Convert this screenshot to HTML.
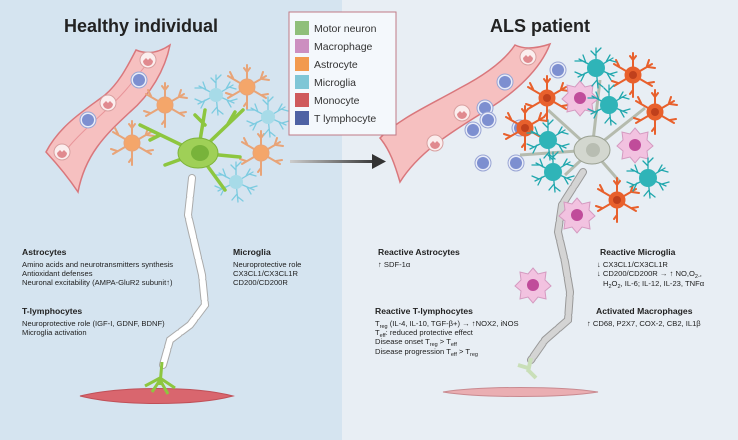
<!DOCTYPE html>
<html><head><meta charset="utf-8"><style>
html,body{margin:0;padding:0;width:738px;height:440px;overflow:hidden;background:#e8eef4}
svg{display:block}
text{font-family:"Liberation Sans",Arial,sans-serif;fill:#222}
.h{font-weight:bold;font-size:18px}
.t{font-weight:bold;font-size:8.6px}
.s{font-size:7.6px}
.lg{font-size:10.5px;fill:#333}
</style></head><body>
<svg width="738" height="440" viewBox="0 0 738 440" xmlns="http://www.w3.org/2000/svg">
<defs>
<g id="astro">
 <path d="M0-22 L0-8 M-3-19 L0-15 L3-19 M19-11 L7-4 M16-15 L14-9 M22-7 L15-8 M19 11 L7 4 M21 7 L15 8 M0 22 L0 8 M-3 19 L0 15 M-19 11 L-7 4 M-21 6 L-15 8 M-19-11 L-7-4 M-17-15 L-14-9" stroke-width="2" fill="none" stroke-linecap="round"/>
 <circle r="8"/>
</g>
<g id="micro">
 <path d="M0 0 L0-20 M0-12 L-5-17 M0-15 L5-20 M0 0 L17-10 M10-6 L14-13 M13-8 L20-6 M0 0 L18 8 M11 5 L15 12 M14 6 L21 4 M0 0 L2 20 M1 12 L-4 18 M2 15 L7 19 M0 0 L-18 9 M-11 5 L-15 13 M-14 7 L-21 4 M0 0 L-17-9 M-10-5 L-13-13 M-13-7 L-21-7" stroke-width="1.3" fill="none" stroke-linecap="round"/>
</g>
<g id="tcell"><circle r="8" fill="#e8ecf8" stroke="#98a4d4" stroke-width="1"/><circle r="6" fill="#7d8fd0"/></g>
<g id="mono"><circle r="8" fill="#fbeeee" stroke="#d8a0a0" stroke-width="1"/><path d="M-5 1 a5 5 0 1 0 10 0 l-3-3 l-2 2 l-2-2z" fill="#e08a8f"/></g>
<g id="macro"><path d="M0-17 L5-11 L13-13 L12-5 L18 1 L12 6 L13 14 L5 12 L0 18 L-5 12 L-13 14 L-12 6 L-18 1 L-12-5 L-13-13 L-5-11Z" fill="#f2c2e0" stroke="#d49ac0" stroke-width="1"/><circle r="6" fill="#c04c9a"/></g>
<linearGradient id="ag" x1="0" x2="1"><stop offset="0" stop-color="#ccc"/><stop offset="1" stop-color="#333"/></linearGradient>
</defs>
<rect x="0" y="0" width="342" height="440" fill="#d5e4f0"/>
<rect x="342" y="0" width="396" height="440" fill="#e8eef4"/>

<text x="64" y="32" class="h">Healthy individual</text>
<text x="490" y="32" class="h">ALS patient</text>

<!-- left vessel -->
<path d="M46 152 C60 125 85 110 105 95 C120 82 128 65 136 50 C148 55 160 52 170 45 C165 70 150 95 130 112 C105 135 85 155 78 192 C70 180 58 165 46 152 Z" fill="#f6c0c0" stroke="#d9777c" stroke-width="1.5"/>
<path d="M60 158 C80 130 110 110 130 85 L150 60" stroke="#e8959a" stroke-width="1" fill="none"/>
<use href="#mono" x="148" y="60"/><use href="#tcell" x="139" y="80"/><use href="#mono" x="108" y="103"/><use href="#tcell" x="88" y="120"/><use href="#mono" x="62" y="152"/>

<!-- left glia -->
<g fill="#f4a66a" stroke="#e8a478"><use href="#astro" x="165" y="105"/><use href="#astro" x="132" y="143"/><use href="#astro" x="247" y="87"/><use href="#astro" x="261" y="153"/></g>
<g stroke="#7ccbe0"><use href="#micro" x="216" y="95"/><use href="#micro" x="268" y="117"/><use href="#micro" x="236" y="182"/></g>
<g fill="#a7dbe8"><circle cx="216" cy="95" r="7"/><circle cx="268" cy="117" r="7"/><circle cx="236" cy="182" r="7"/></g>

<!-- left neuron -->
<path d="M198 153 L243 110 M228 124 L235 112 M198 153 L140 125 M160 135 L150 140 M198 153 L165 165 M198 153 L240 157 M198 153 L225 190 M198 153 L205 110 M205 125 L195 115" stroke="#8dc63f" stroke-width="3.5" fill="none" stroke-linecap="round"/>
<ellipse cx="198" cy="153" rx="20" ry="15" fill="#9fd057" stroke="#7db33a"/>
<ellipse cx="200" cy="153" rx="9" ry="8" fill="#78b33a"/>
<path d="M192 178 L188 215 L195 245 L202 275 L205 305 L190 325 L170 340 L163 365" stroke="#aaa" stroke-width="8" fill="none" stroke-dasharray="18 3" stroke-linecap="round"/>
<path d="M192 178 L188 215 L195 245 L202 275 L205 305 L190 325 L170 340 L163 365" stroke="#fff" stroke-width="6" fill="none" stroke-dasharray="18 3" stroke-linecap="round"/>
<path d="M80 396 C120 386 195 386 233 396 C195 406 120 406 80 396Z" fill="#d9666e" stroke="#c05058"/>
<path d="M162 362 L160 385 M160 378 L145 386 M160 378 L175 388 M160 380 L152 392 M160 380 L168 394" stroke="#8dc63f" stroke-width="3" fill="none"/>

<!-- right vessel -->
<path d="M380 138 C400 118 430 105 460 88 C485 75 505 60 515 45 C525 50 538 48 550 44 C540 70 515 92 490 108 C455 130 420 150 400 182 C395 165 390 150 380 138 Z" fill="#f6c0c0" stroke="#d9777c" stroke-width="1.5"/>
<use href="#mono" x="528" y="57"/><use href="#tcell" x="505" y="82"/><use href="#mono" x="462" y="113"/><use href="#tcell" x="485" y="108"/><use href="#mono" x="435" y="143"/>
<use href="#tcell" x="558" y="70"/><use href="#tcell" x="488" y="120"/><use href="#tcell" x="473" y="130"/><use href="#tcell" x="520" y="128"/><use href="#tcell" x="483" y="163"/><use href="#tcell" x="516" y="163"/>

<!-- right neuron -->
<path d="M592 150 L645 108 M592 150 L548 110 M592 150 L520 155 M592 150 L620 182 M592 150 L600 80 M592 150 L565 175" stroke="#b5bbae" stroke-width="3" fill="none"/>
<ellipse cx="592" cy="150" rx="18" ry="14" fill="#d3d7cf" stroke="#9aa092"/>
<ellipse cx="593" cy="150" rx="7" ry="7" fill="#b8bdb2"/>
<path d="M583 172 L562 205 L558 232 L565 262 L570 292 L568 320 L545 340 L531 360" stroke="#999" stroke-width="8" fill="none" stroke-dasharray="16 3" stroke-linecap="round"/>
<path d="M583 172 L562 205 L558 232 L565 262 L570 292 L568 320 L545 340 L531 360" stroke="#d4d4d4" stroke-width="6" fill="none" stroke-dasharray="16 3" stroke-linecap="round"/>
<path d="M531 358 L528 372 M528 368 L518 365 M528 370 L536 378" stroke="#c9dfb8" stroke-width="4" fill="none"/>
<path d="M443 392 C480 386 560 386 598 392 C560 398 480 398 443 392Z" fill="#eaaeb2" stroke="#c98a90"/>

<g fill="#e8602c" stroke="#e8602c"><use href="#astro" x="633" y="75"/><use href="#astro" x="547" y="98"/><use href="#astro" x="525" y="128"/><use href="#astro" x="655" y="112"/><use href="#astro" x="617" y="200"/></g>
<g fill="#c0401c"><circle cx="633" cy="75" r="4"/><circle cx="547" cy="98" r="4"/><circle cx="525" cy="128" r="4"/><circle cx="655" cy="112" r="4"/><circle cx="617" cy="200" r="4"/></g>
<use href="#macro" x="580" y="98"/><use href="#macro" x="635" y="145"/><use href="#macro" x="577" y="215"/><use href="#macro" x="533" y="285"/>
<g stroke="#1fa7ad"><use href="#micro" x="596" y="68"/><use href="#micro" x="609" y="105"/><use href="#micro" x="548" y="140"/><use href="#micro" x="553" y="172"/><use href="#micro" x="648" y="178"/></g>
<g fill="#2fb4b8"><circle cx="596" cy="68" r="9"/><circle cx="609" cy="105" r="9"/><circle cx="548" cy="140" r="9"/><circle cx="553" cy="172" r="9"/><circle cx="648" cy="178" r="9"/></g>

<!-- arrow -->
<rect x="290" y="160" width="88" height="3" fill="url(#ag)"/>
<path d="M372 154 L386 161.5 L372 169Z" fill="#333"/>

<!-- legend -->
<rect x="289" y="12" width="107" height="123" fill="#f4f8fc" stroke="#c07a86" stroke-width="1"/>
<rect x="295" y="21" width="14" height="14" fill="#8fbf7a"/><text x="314" y="32" class="lg">Motor neuron</text>
<rect x="295" y="39" width="14" height="14" fill="#cc8fc0"/><text x="314" y="50" class="lg">Macrophage</text>
<rect x="295" y="57" width="14" height="14" fill="#f29a4e"/><text x="314" y="68" class="lg">Astrocyte</text>
<rect x="295" y="75" width="14" height="14" fill="#7fc6d6"/><text x="314" y="86" class="lg">Microglia</text>
<rect x="295" y="93" width="14" height="14" fill="#cf5a5c"/><text x="314" y="104" class="lg">Monocyte</text>
<rect x="295" y="111" width="14" height="14" fill="#4e62a4"/><text x="314" y="122" class="lg">T lymphocyte</text>

<!-- left text -->
<text x="22" y="255" class="t">Astrocytes</text>
<text x="22" y="267" class="s">Amino acids and neurotransmitters synthesis</text>
<text x="22" y="276" class="s">Antioxidant defenses</text>
<text x="22" y="285" class="s">Neuronal excitability (AMPA-GluR2 subunit↑)</text>
<text x="22" y="314" class="t">T-lymphocytes</text>
<text x="22" y="326" class="s">Neuroprotective role (IGF-I, GDNF, BDNF)</text>
<text x="22" y="335" class="s">Microglia activation</text>
<text x="233" y="255" class="t">Microglia</text>
<text x="233" y="267" class="s">Neuroprotective role</text>
<text x="233" y="276" class="s">CX3CL1/CX3CL1R</text>
<text x="233" y="285" class="s">CD200/CD200R</text>

<!-- right text -->
<text x="378" y="255" class="t">Reactive Astrocytes</text>
<text x="378" y="267" class="s">↑ SDF-1α</text>
<text x="375" y="314" class="t">Reactive T-lymphocytes</text>
<text x="375" y="326" class="s">T<tspan font-size="5.5" dy="2">reg</tspan><tspan dy="-2"> (IL-4, IL-10, TGF-β+) → ↑NOX2, iNOS</tspan></text>
<text x="375" y="335" class="s">T<tspan font-size="5.5" dy="2">eff</tspan><tspan dy="-2">: reduced protective effect</tspan></text>
<text x="375" y="344" class="s">Disease onset T<tspan font-size="5.5" dy="2">reg</tspan><tspan dy="-2"> &gt; T</tspan><tspan font-size="5.5" dy="2">eff</tspan></text>
<text x="375" y="354" class="s">Disease progression T<tspan font-size="5.5" dy="2">eff</tspan><tspan dy="-2"> &gt; T</tspan><tspan font-size="5.5" dy="2">reg</tspan></text>
<text x="600" y="255" class="t">Reactive Microglia</text>
<text x="597" y="267" class="s">↓ CX3CL1/CX3CL1R</text>
<text x="597" y="276" class="s">↓ CD200/CD200R → ↑ NO,O<tspan font-size="5.5" dy="2">2-</tspan><tspan dy="-2">,</tspan></text>
<text x="603" y="286" class="s">H<tspan font-size="5.5" dy="2">2</tspan><tspan dy="-2">O</tspan><tspan font-size="5.5" dy="2">2</tspan><tspan dy="-2">, IL-6; IL-12, IL-23, TNFα</tspan></text>
<text x="596" y="314" class="t">Activated Macrophages</text>
<text x="587" y="326" class="s">↑ CD68, P2X7, COX-2, CB2, IL1β</text>
</svg>
</body></html>
